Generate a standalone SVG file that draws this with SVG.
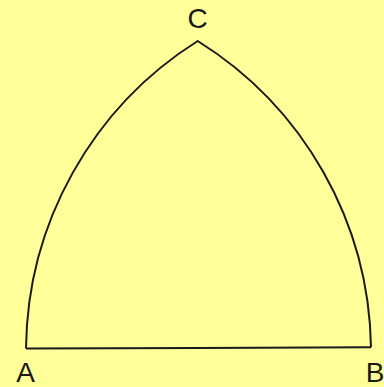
<svg xmlns="http://www.w3.org/2000/svg" width="384" height="387" viewBox="0 0 384 387">
<style>
.edge{fill:none;stroke:#1a1a1a;stroke-width:2;stroke-linejoin:miter}
.lbl{font-family:"Liberation Sans",Arial,sans-serif;font-size:28px;fill:#1a1a1a;text-anchor:middle}
</style>
<rect width="384" height="387" fill="#ffff99"/>
<g id="shape">
<path class="edge" d="M 26 348.5 A 368 368 0 0 1 197.7 41 A 368 368 0 0 1 371 347.3"/>
<path class="edge" d="M 26 348.5 L 200 347.9"/>
<path class="edge" d="M 197 347.9 L 371 347.3"/>
</g>
<g id="labels">
<text class="lbl" x="25.7" y="381.7">A</text>
<text class="lbl" x="197.5" y="28.3">C</text>
<text class="lbl" x="375" y="381.7">B</text>
</g>
</svg>
